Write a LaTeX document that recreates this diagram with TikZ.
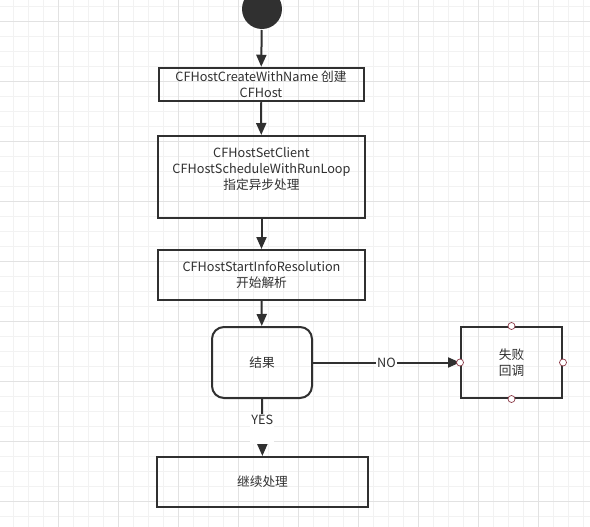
\documentclass[tikz,border=0pt]{standalone}
\usepackage{fontspec}
\setmainfont{Noto Sans CJK SC}
\usetikzlibrary{arrows.meta}
\definecolor{ink}{HTML}{303030}
\definecolor{gridminor}{HTML}{F2F2F2}
\definecolor{gridmajor}{HTML}{E2E2E2}
\definecolor{port}{HTML}{8B3A48}
\begin{document}
\begin{tikzpicture}[x=1pt,y=-1pt,line width=2pt,>={Triangle[length=12pt,width=10pt]},
    box/.style={draw=ink,rectangle,text=ink,align=center,font=\fontsize{12.7}{16}\selectfont},
    flow/.style={draw=ink,->},
    tag/.style={fill=white,text=ink,inner sep=1pt,font=\fontsize{12.7}{16}\selectfont},
    port/.style={circle,draw=port,fill=white,line width=0.7pt,inner sep=0pt,minimum size=7pt}]
  \useasboundingbox(0,0)rectangle(590,527);
  % grid
  \foreach \x in {-2,13,...,590}\draw[gridminor,line width=0.8pt](\x,0)--(\x,527);
  \foreach \y in {6.7,21.7,...,527}\draw[gridminor,line width=0.8pt](0,\y)--(590,\y);
  \foreach \x in {58,118,...,590}\draw[gridmajor,line width=0.8pt](\x,0)--(\x,527);
  \foreach \y in {21.7,81.7,...,527}\draw[gridmajor,line width=0.8pt](0,\y)--(590,\y);
  % nodes
  \node[circle,fill=ink,minimum size=40pt,inner sep=0pt](start)at(262,9){};
  \node[box,minimum width=205pt,minimum height=33pt](create)at(261,84.5){CFHostCreateWithName 创建\\CFHost};
  \node[box,minimum width=207pt,minimum height=82pt,anchor=north](client)at(261.5,135){CFHostSetClient\\CFHostScheduleWithRunLoop\\指定异步处理\\[1pt]\hphantom{x}};
  \node[box,minimum width=207pt,minimum height=50pt](resolve)at(261.5,275){CFHostStartInfoResolution\\开始解析};
  \node[box,rounded corners=12pt,minimum width=100pt,minimum height=71pt](result)at(262,362.5){结果};
  \node[box,minimum width=101pt,minimum height=71pt](fail)at(511.5,362.5){失败\\回调};
  \node[box,minimum width=211pt,minimum height=50pt](cont)at(262.5,482){继续处理};
  % connectors
  \draw[flow](start)--(create);
  \draw[flow](create)--(client);
  \draw[flow](client)--(resolve);
  \draw[flow](resolve)--(result);
  \draw[flow](result.east)--node[tag]{NO}(fail.west);
  \draw[flow](result)--node[tag,pos=0.25,anchor=north,text depth=18pt]{YES}(cont);
  \foreach \a in {north,south,east,west}\node[port]at(fail.\a){};
\end{tikzpicture}
\end{document}
